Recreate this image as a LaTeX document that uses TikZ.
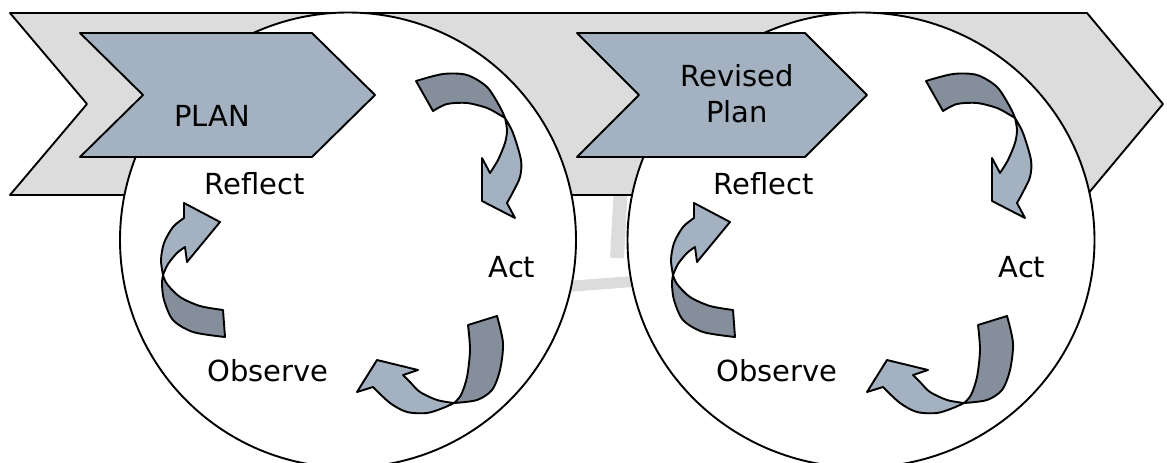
\documentclass[tikz,border=0pt]{standalone}
\usepackage{fontspec}
\setmainfont{DejaVu Sans}
\usetikzlibrary{shapes.geometric}
\definecolor{bandgrey}{HTML}{DCDCDC}
\definecolor{steel}{HTML}{A3B1C1}
\definecolor{steeldark}{HTML}{848F9B}
\definecolor{markgrey}{HTML}{DCDCDC}

\begin{document}
\begin{tikzpicture}[x=1pt,y=-1pt,
  outline/.style={draw=black, line width=1.9pt, line join=round},
  band/.style={outline, fill=bandgrey},
  stage/.style={outline, fill=steel},
  ring/.style={ellipse, outline, fill=white, inner sep=0pt},
  back/.style={outline, fill=steeldark},
  front/.style={outline, fill=steel},
  lbl/.style={font=\fontsize{29}{36}\selectfont, inner sep=0pt, anchor=base},
  wmark/.style={draw=markgrey, line width=14pt},
  turns/.pic={
    % right arrow: from the top of the ring down towards "Act"
    \filldraw[back] plot[smooth] coordinates {(416,81) (443,74) (467,75) (487,87) (500,107) (505,118)}
      -- plot[smooth] coordinates {(505,118) (500,115) (487,108) (467,103) (447,104) (433,111)} -- cycle;
    \filldraw[front] plot[smooth] coordinates {(505,118) (513,133) (521,160) (520,177) (513,192) (507,203)}
      -- (515,218) -- (482,201) -- (482,158)
      -- plot[smooth] coordinates {(490,173) (498,160) (505,143) (507,130) (505,118)} -- cycle;
    % lower arrow: from "Act" round to "Observe"
    \filldraw[back] (468,325) -- (497,316)
      -- plot[smooth] coordinates {(497,316) (503,343) (500,370) (492,390) (477,400) (454,403)}
      -- plot[smooth] coordinates {(454,403) (461,395) (467,377) (470,350) (468,325)} -- cycle;
    \filldraw[front] plot[smooth] coordinates {(454,403) (437,400) (420,392) (410,382) (403,375)}
      -- (418,370) -- (377,360) -- (357,392)
      -- plot[smooth] coordinates {(373,387) (390,403) (407,412) (427,413) (443,408) (454,403)} -- cycle;
    % left arrow: from "Observe" up to "Reflect"
    \filldraw[back] (223,310) -- (225,337)
      -- plot[smooth] coordinates {(225,337) (193,332) (173,320) (164,300) (162,284) (163,275)}
      -- plot[smooth] coordinates {(163,275) (167,284) (180,297) (200,306) (223,310)} -- cycle;
    \filldraw[front] plot[smooth] coordinates {(163,275) (161,260) (164,243) (173,227) (184,218)}
      -- (184,203) -- (220,222) -- (187,262)
      -- plot[smooth] coordinates {(185,247) (177,253) (168,264) (163,275)} -- cycle;
  }
]
\useasboundingbox (0,0) rectangle (1167,463);

% faint strokes of the background mark
\draw[wmark] (621,185) -- (617,258);
\draw[wmark, line width=11pt] (560,287) -- (640,281);

% long chevron carrying both cycles
\filldraw[band] (10,13) -- (1087,13) -- (1163,104) -- (1087,195) -- (10,195) -- (87,104) -- cycle;

% the two cycles
\node[ring, minimum width=456pt, minimum height=455pt] (cycle1) at (348,240) {};
\node[ring, minimum width=467pt, minimum height=455pt] (cycle2) at (861,240) {};

\pic at (0,0) {turns};
\pic at (510,0) {turns};

% stage chevrons
\filldraw[stage] (80,33) -- (312,33) -- (375,95) -- (312,157) -- (80,157) -- (143,95) -- cycle;
\filldraw[stage] (577,33) -- (805,33) -- (867,95) -- (805,157) -- (577,157) -- (639,95) -- cycle;

% labels
\node[lbl] (plan) at (212,126) {PLAN};
\node[font=\fontsize{29}{36}\selectfont, inner sep=0pt, align=center] (revised) at (737,94) {Revised\\Plan};

\node[lbl] (reflect1) at (255,194) {Reflect};
\node[lbl] (act1) at (512,277) {Act};
\node[lbl] (observe1) at (268,381) {Observe};

\node[lbl] (reflect2) at (764,194) {Reflect};
\node[lbl] (act2) at (1022,277) {Act};
\node[lbl] (observe2) at (777,381) {Observe};
\end{tikzpicture}
\end{document}
